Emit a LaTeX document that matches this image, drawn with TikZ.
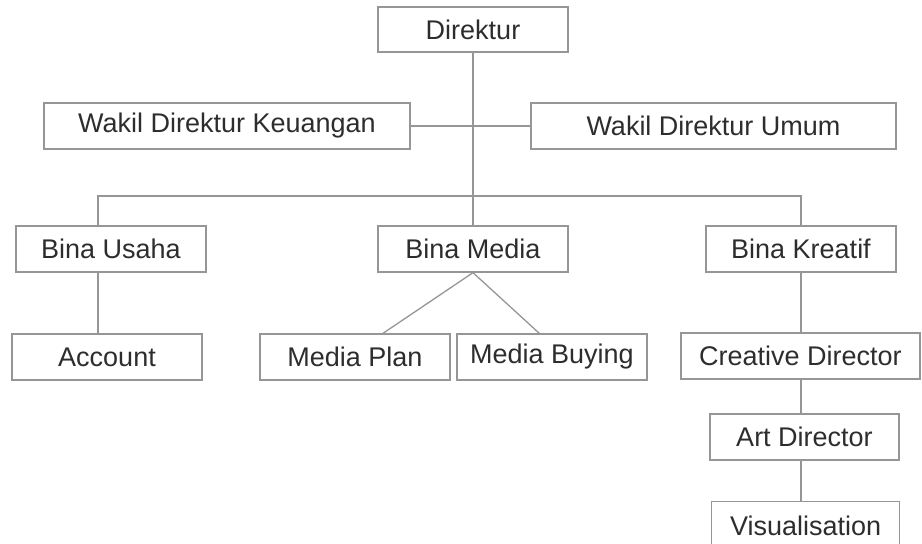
\documentclass[tikz,border=0pt]{standalone}
\usepackage{fontspec}
\setmainfont{Liberation Sans}
\definecolor{boxline}{RGB}{150,150,150}
\definecolor{txt}{RGB}{45,45,45}
\begin{document}
\begin{tikzpicture}[x=1pt,y=-1pt,
  box/.style={draw=boxline,line width=1.3pt,rectangle,inner sep=0pt,text=txt,
    font=\fontsize{27}{29}\selectfont},
  link/.style={draw=boxline,line width=1.3pt}]
\useasboundingbox (0,0) rectangle (922,544);
\newcommand{\bx}[6]{\node[box,minimum width={#4-#3},minimum height={#6-#5}] (#1) at ({(#3+#4)/2},{(#5+#6)/2}) {#2};}
\bx{dir}{Direktur}{378}{568}{7}{52}
\bx{wkeu}{Wakil Direktur Keuangan}{44}{410}{103}{149}
\bx{wum}{Wakil Direktur Umum}{531}{896}{103}{149}
\bx{bu}{Bina Usaha}{16}{206}{226}{272}
\bx{bm}{Bina Media}{378}{568}{226}{272}
\bx{bk}{Bina Kreatif}{706}{896}{226}{272}
\bx{acc}{Account}{12}{202}{334}{380}
\bx{mp}{Media Plan}{260}{450}{334}{380}
\bx{mb}{Media Buying}{457}{647}{334}{380}
\bx{cd}{Creative Director}{681}{920}{333}{379}
\bx{ad}{Art Director}{710}{899}{414}{460}
\node[box,minimum width=188,minimum height=56,anchor=north west,text depth=0pt] (vis) at (711,501) {\raisebox{8pt}{Visualisation}};
\coordinate (j2) at (dir.south |- 0,196);
\coordinate (bux) at (98,0);
\coordinate (jl) at (bux |- j2);
\coordinate (jr) at (bk.north |- j2);
\coordinate (mpt) at (382,334);
\coordinate (mbt) at (540,334);
\draw[link] (dir.south) -- (bm.north);
\draw[link] (wkeu.east) -- (wum.west);
\draw[link] (bux |- bu.north) -- (jl) -- (jr) -- (bk.north);
\draw[link] (bux |- bu.south) -- (bux |- acc.north);
\draw[link] (bm.south) -- (mpt);
\draw[link] (bm.south) -- (mbt);
\draw[link] (bk.south) -- (bk.south |- cd.north);
\draw[link] (cd.south -| bk.south) -- (ad.north -| bk.south);
\draw[link] (ad.south -| bk.south) -- (vis.north -| bk.south);
\end{tikzpicture}
\end{document}
